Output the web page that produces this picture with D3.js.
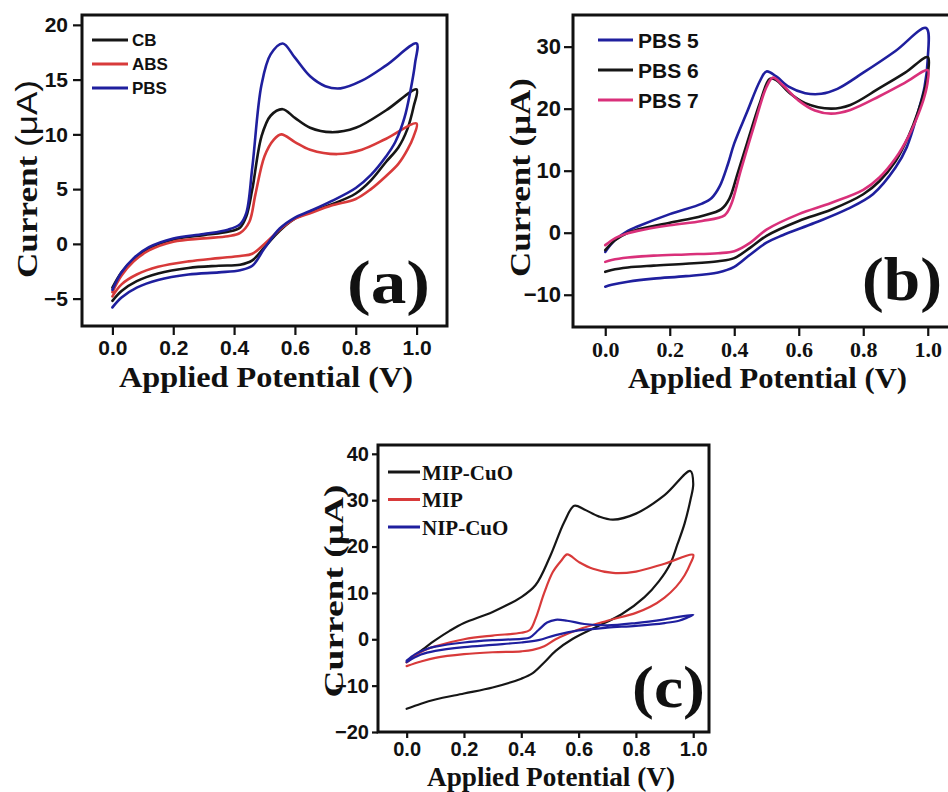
<!DOCTYPE html>
<html>
<head>
<meta charset="utf-8">
<script src="https://cdn.jsdelivr.net/npm/d3@7"></script>
<style>
  html, body { margin: 0; padding: 0; background: #ffffff; }
  svg { display: block; }
</style>
</head>
<body>
<svg id="fig" width="948" height="792"></svg>
<script>
// ---- Cyclic voltammograms: [potential (V), current (µA)], forward sweep then reverse ----

// Panel (a): supporting electrolytes
const cbLoop = [
  [0, -4.0], [0.03, -2.6], [0.07, -1.4], [0.12, -0.4], [0.2, 0.4], [0.3, 0.8], [0.38, 1.1],
  [0.42, 1.5], [0.44, 2.5], [0.46, 5.0], [0.49, 9.8], [0.52, 11.7], [0.56, 12.3], [0.6, 11.5],
  [0.65, 10.6], [0.72, 10.2], [0.8, 10.6], [0.9, 12.2], [1.0, 14.1],
  [0.99, 12.5], [0.97, 10.5], [0.94, 8.8], [0.9, 7.5], [0.85, 5.8], [0.8, 4.6], [0.72, 3.6],
  [0.65, 2.9], [0.6, 2.3], [0.55, 1.2], [0.5, -0.3], [0.46, -1.5], [0.42, -1.9], [0.35, -2.0],
  [0.25, -2.2], [0.15, -2.7], [0.08, -3.4], [0.03, -4.3], [0, -5.2]
];
const absLoop = [
  [0, -4.4], [0.03, -2.9], [0.07, -1.6], [0.12, -0.6], [0.2, 0.2], [0.3, 0.5], [0.38, 0.7],
  [0.42, 1.0], [0.45, 2.0], [0.47, 4.5], [0.5, 8.0], [0.53, 9.5], [0.555, 10.0], [0.6, 9.3],
  [0.65, 8.6], [0.74, 8.2], [0.82, 8.6], [0.9, 9.6], [1.0, 11.0],
  [0.99, 9.8], [0.97, 8.6], [0.94, 7.3], [0.9, 6.2], [0.85, 5.0], [0.8, 4.1], [0.72, 3.5],
  [0.65, 2.8], [0.6, 2.3], [0.55, 1.3], [0.5, 0.0], [0.46, -0.9], [0.42, -1.1], [0.35, -1.3],
  [0.25, -1.6], [0.15, -2.1], [0.08, -2.8], [0.03, -3.7], [0, -4.8]
];
const pbsLoop = [
  [0, -4.2], [0.03, -2.6], [0.07, -1.3], [0.12, -0.3], [0.2, 0.5], [0.3, 0.9], [0.38, 1.3],
  [0.42, 1.8], [0.44, 2.8], [0.46, 7.0], [0.49, 14.5], [0.52, 17.3], [0.56, 18.3], [0.6, 17.0],
  [0.65, 15.3], [0.7, 14.4], [0.75, 14.2], [0.82, 14.9], [0.9, 16.3], [1.0, 18.3],
  [0.995, 16.5], [0.98, 14.0], [0.96, 11.5], [0.93, 9.3], [0.9, 8.0], [0.85, 6.3], [0.8, 5.1],
  [0.72, 3.9], [0.65, 3.0], [0.6, 2.4], [0.55, 1.4], [0.5, -0.4], [0.46, -2.0], [0.42, -2.4],
  [0.35, -2.6], [0.25, -2.8], [0.15, -3.3], [0.08, -4.0], [0.03, -4.9], [0, -5.8]
];

// Panel (b): PBS at pH 5, 6 and 7
const ph5Loop = [
  [0, -3.1], [0.03, -1.2], [0.07, 0.3], [0.1, 1.0], [0.2, 3.0], [0.3, 4.7], [0.33, 5.6],
  [0.355, 7.5], [0.38, 11.0], [0.4, 14.4], [0.44, 19.5], [0.48, 24.5], [0.5, 26.0], [0.53, 25.2],
  [0.57, 23.5], [0.62, 22.5], [0.67, 22.4], [0.72, 23.2], [0.8, 25.8], [0.9, 29.3], [0.995, 33.0],
  [1.0, 28.0], [0.99, 23.5], [0.97, 19.5], [0.935, 13.8], [0.9, 10.5], [0.83, 6.2], [0.75, 3.8],
  [0.65, 1.6], [0.55, -0.4], [0.5, -1.6], [0.45, -3.5], [0.4, -5.5], [0.35, -6.4], [0.25, -7.0],
  [0.15, -7.4], [0.07, -7.9], [0.02, -8.4], [0, -8.7]
];
const ph6Loop = [
  [0, -2.8], [0.03, -1.2], [0.07, 0.0], [0.1, 0.5], [0.2, 1.6], [0.3, 2.7], [0.36, 3.8],
  [0.385, 5.5], [0.41, 9.5], [0.44, 14.5], [0.48, 21.0], [0.51, 24.8], [0.53, 24.6], [0.57, 22.6],
  [0.62, 20.9], [0.7, 20.0], [0.76, 20.6], [0.85, 23.3], [0.93, 25.8], [1.0, 28.3],
  [1.0, 25.5], [0.99, 23.0], [0.97, 19.5], [0.94, 15.5], [0.9, 11.5], [0.85, 8.3], [0.8, 6.2],
  [0.7, 3.7], [0.6, 1.9], [0.5, -0.5], [0.45, -2.4], [0.4, -4.1], [0.35, -4.6], [0.25, -5.0],
  [0.15, -5.3], [0.07, -5.6], [0.02, -6.0], [0, -6.3]
];
const ph7Loop = [
  [0, -2.0], [0.03, -0.9], [0.07, -0.1], [0.1, 0.3], [0.2, 1.2], [0.3, 1.9], [0.37, 2.8],
  [0.39, 4.5], [0.42, 10.0], [0.46, 17.0], [0.5, 23.5], [0.52, 25.0], [0.55, 23.8], [0.6, 21.3],
  [0.65, 19.7], [0.7, 19.2], [0.76, 19.8], [0.85, 22.0], [0.93, 24.2], [1.0, 26.2],
  [1.0, 24.5], [0.99, 22.0], [0.97, 19.0], [0.94, 15.5], [0.9, 12.0], [0.85, 8.9], [0.8, 6.9],
  [0.7, 4.8], [0.6, 3.0], [0.5, 0.5], [0.45, -1.6], [0.4, -3.0], [0.35, -3.3], [0.25, -3.5],
  [0.15, -3.7], [0.07, -4.0], [0.02, -4.4], [0, -4.7]
];

// Panel (c): imprinted / non-imprinted electrodes
const mipCuoLoop = [
  [0, -4.9], [0.03, -3.4], [0.06, -2.0], [0.1, -0.2], [0.15, 1.8], [0.2, 3.5], [0.3, 5.9],
  [0.4, 9.1], [0.45, 11.7], [0.5, 17.8], [0.55, 25.3], [0.585, 28.8], [0.62, 28.0], [0.67, 26.5],
  [0.72, 25.8], [0.8, 27.1], [0.9, 31.1], [0.99, 36.3],
  [1.0, 33.5], [0.99, 30.0], [0.97, 25.0], [0.945, 20.5], [0.92, 16.3], [0.88, 12.5], [0.83, 9.1],
  [0.75, 5.4], [0.66, 2.6], [0.58, 0.1], [0.52, -2.5], [0.48, -5.0], [0.44, -7.3], [0.4, -8.5],
  [0.3, -10.4], [0.2, -11.7], [0.1, -13.0], [0.05, -13.9], [0, -15.0]
];
const mipLoop = [
  [0, -5.0], [0.03, -3.5], [0.06, -2.4], [0.1, -1.5], [0.2, 0.0], [0.3, 0.8], [0.4, 1.4],
  [0.43, 2.0], [0.45, 4.5], [0.48, 10.0], [0.51, 14.5], [0.54, 17.0], [0.56, 18.3], [0.6, 16.7],
  [0.65, 15.2], [0.72, 14.3], [0.8, 14.6], [0.9, 16.3], [1.0, 18.2],
  [0.99, 16.3], [0.97, 13.8], [0.94, 11.3], [0.9, 9.0], [0.85, 7.0], [0.8, 5.7], [0.7, 4.0],
  [0.6, 2.1], [0.52, 0.0], [0.48, -1.5], [0.44, -2.3], [0.4, -2.6], [0.3, -2.8], [0.2, -3.2],
  [0.1, -4.0], [0.05, -4.8], [0, -5.8]
];
const nipCuoLoop = [
  [0, -4.6], [0.03, -3.2], [0.07, -2.1], [0.1, -1.6], [0.2, -0.7], [0.3, -0.2], [0.4, 0.1],
  [0.43, 0.4], [0.46, 2.0], [0.49, 3.6], [0.52, 4.2], [0.56, 4.0], [0.62, 3.3], [0.7, 3.0],
  [0.8, 3.5], [0.9, 4.3], [1.0, 5.3],
  [0.98, 4.7], [0.95, 4.0], [0.9, 3.5], [0.8, 2.9], [0.7, 2.5], [0.6, 1.9], [0.52, 0.9],
  [0.46, -0.2], [0.4, -0.7], [0.3, -1.2], [0.2, -1.7], [0.1, -2.5], [0.05, -3.3], [0, -4.9]
];

// ---- Labels and ticks ----
const xTicks = [0, 0.2, 0.4, 0.6, 0.8, 1.0];
const yTicksA = [-5, 0, 5, 10, 15, 20];
const yTicksB = [-10, 0, 10, 20, 30];
const yTicksC = [-20, -10, 0, 10, 20, 30, 40];
const legendA = ["CB", "ABS", "PBS"];
const legendB = ["PBS 5", "PBS 6", "PBS 7"];
const legendC = ["MIP-CuO", "MIP", "NIP-CuO"];

const SANS = "Liberation Sans, Arial, Helvetica, Arimo, sans-serif";
const SERIF = "Liberation Serif, Times New Roman, Times, Tinos, Nimbus Roman, FreeSerif, serif";
const BLACK = "#161616", RED = "#d83a3a", BLUE = "#1f1f9e", PINK = "#d9307a";

const svg = d3.select("#fig");

function drawPanel(p) {
  const x = d3.scaleLinear().domain(p.xDomain).range([p.left, p.right]);
  const y = d3.scaleLinear().domain(p.yDomain).range([p.bottom, p.top]);
  const g = svg.append("g");

  // curves
  const line = d3.line().x(d => x(d[0])).y(d => y(d[1])).curve(d3.curveCatmullRom.alpha(0.5));
  p.series.forEach(s => {
    g.append("path").attr("d", line(s.data)).attr("fill", "none")
      .attr("stroke", s.color).attr("stroke-width", p.lineWidth)
      .attr("stroke-linejoin", "round").attr("stroke-linecap", "round");
  });

  // axes
  const xAxis = d3.axisBottom(x).tickValues(xTicks).tickFormat(d3.format(".1f"))
    .tickSize(p.tickLen).tickSizeOuter(0);
  const xg = g.append("g").attr("transform", `translate(0,${p.bottom})`).call(xAxis);
  xg.attr("font-family", null);
  xg.select(".domain").remove();
  xg.selectAll(".tick line").attr("stroke", "#111").attr("stroke-width", 2.2);
  xg.selectAll(".tick text").attr("fill", "#111")
    .style("font-family", p.xTickFont).style("font-weight", "bold").style("font-size", p.xTickSize + "px")
    .attr("y", null).attr("dy", null)
    .attr("transform", `translate(0,${p.xTickBase - p.bottom})`);

  const yAxis = d3.axisLeft(y).tickValues(p.yTicks).tickFormat(d3.format("d"))
    .tickSize(p.tickLen).tickSizeOuter(0).tickPadding(p.yPad);
  const yg = g.append("g").attr("transform", `translate(${p.left},0)`).call(yAxis);
  yg.attr("font-family", null);
  yg.select(".domain").remove();
  yg.selectAll(".tick line").attr("stroke", "#111").attr("stroke-width", 2.2);
  yg.selectAll(".tick text").attr("fill", "#111")
    .style("font-family", SANS).style("font-weight", "bold").style("font-size", p.yTickSize + "px");

  // frame
  g.append("rect").attr("x", p.left).attr("y", p.top)
    .attr("width", p.right - p.left).attr("height", p.bottom - p.top)
    .attr("fill", "none").attr("stroke", "#111").attr("stroke-width", 3);

  // legend
  p.series.forEach((s, i) => {
    const ly = p.legend.y + i * p.legend.dy;
    g.append("line").attr("x1", p.legend.x).attr("x2", p.legend.x + p.legend.len)
      .attr("y1", ly).attr("y2", ly).attr("stroke", s.color).attr("stroke-width", 3);
    g.append("text").attr("x", p.legend.x + p.legend.len + p.legend.gap).attr("y", ly)
      .attr("dy", "0.36em").style("font-family", p.legend.font).style("font-weight", "bold")
      .style("font-size", p.legend.size + "px").attr("fill", "#111").text(s.name);
  });

  // axis titles
  g.append("text").attr("x", p.xTitle.cx).attr("y", p.xTitle.base).attr("text-anchor", "middle")
    .style("font-family", SERIF).style("font-weight", "bold").style("font-size", p.xTitle.size + "px")
    .attr("textLength", p.xTitle.len).attr("lengthAdjust", "spacingAndGlyphs")
    .attr("fill", "#111").text("Applied Potential (V)");

  const yt = g.append("text")
    .attr("transform", `translate(${p.yTitle.base},${p.yTitle.cy}) rotate(-90)`)
    .attr("text-anchor", "middle").style("font-family", SERIF).style("font-weight", "bold")
    .style("font-size", p.yTitle.size + "px").attr("textLength", p.yTitle.len)
    .attr("lengthAdjust", "spacingAndGlyphs").attr("fill", "#111");
  yt.append("tspan").text("Current ");
  yt.append("tspan").style("font-family", p.yTitle.unitFont)
    .style("font-weight", p.yTitle.unitWeight).text("(μA)");

  // panel tag
  g.append("text").attr("x", p.tag.x).attr("y", p.tag.y)
    .style("font-family", SERIF).style("font-weight", "bold").style("font-size", p.tag.size + "px")
    .attr("textLength", p.tag.len).attr("lengthAdjust", "spacingAndGlyphs")
    .attr("fill", "#111").text(p.tag.text);
}

drawPanel({
  left: 82, right: 447, top: 15, bottom: 326,
  xDomain: [-0.1, 1.1], yDomain: [-7.5, 20.9], yTicks: yTicksA,
  lineWidth: 2.6, tickLen: 9, yPad: 5,
  xTickFont: SANS, xTickSize: 21, xTickBase: 355, yTickSize: 21,
  series: [
    { name: legendA[0], color: BLACK, data: cbLoop },
    { name: legendA[1], color: RED, data: absLoop },
    { name: legendA[2], color: BLUE, data: pbsLoop }
  ],
  legend: { x: 92, y: 40, dy: 24, len: 36, gap: 4, font: SANS, size: 17 },
  xTitle: { cx: 266, base: 387, size: 30, len: 294 },
  yTitle: { base: 37, cy: 179, size: 30, len: 198, unitFont: SANS, unitWeight: "normal" },
  tag: { x: 347, y: 303, size: 62, len: 83, text: "(a)" }
});

drawPanel({
  left: 573, right: 960, top: 15, bottom: 327,
  xDomain: [-0.1, 1.1], yDomain: [-15.2, 35.1], yTicks: yTicksB,
  lineWidth: 2.6, tickLen: 9, yPad: 3,
  xTickFont: SERIF, xTickSize: 22, xTickBase: 357, yTickSize: 22,
  series: [
    { name: legendB[0], color: BLUE, data: ph5Loop },
    { name: legendB[1], color: BLACK, data: ph6Loop },
    { name: legendB[2], color: PINK, data: ph7Loop }
  ],
  legend: { x: 598, y: 40, dy: 30, len: 35, gap: 5, font: SANS, size: 21 },
  xTitle: { cx: 767.5, base: 388, size: 30, len: 279 },
  yTitle: { base: 530, cy: 177.5, size: 30, len: 199, unitFont: SERIF, unitWeight: "bold" },
  tag: { x: 862, y: 300, size: 62, len: 80, text: "(b)" }
});

drawPanel({
  left: 378, right: 709, top: 445, bottom: 732,
  xDomain: [-0.1, 1.055], yDomain: [-20, 41.9], yTicks: yTicksC,
  lineWidth: 2.2, tickLen: 6, yPad: 3,
  xTickFont: SANS, xTickSize: 20, xTickBase: 756, yTickSize: 20,
  series: [
    { name: legendC[0], color: BLACK, data: mipCuoLoop },
    { name: legendC[1], color: RED, data: mipLoop },
    { name: legendC[2], color: BLUE, data: nipCuoLoop }
  ],
  legend: { x: 388, y: 472, dy: 27.5, len: 32, gap: 2, font: SERIF, size: 21 },
  xTitle: { cx: 551, base: 786, size: 27, len: 248 },
  yTitle: { base: 343, cy: 591, size: 28, len: 213, unitFont: SERIF, unitWeight: "bold" },
  tag: { x: 632, y: 707, size: 60, len: 73, text: "(c)" }
});
</script>
</body>
</html>
